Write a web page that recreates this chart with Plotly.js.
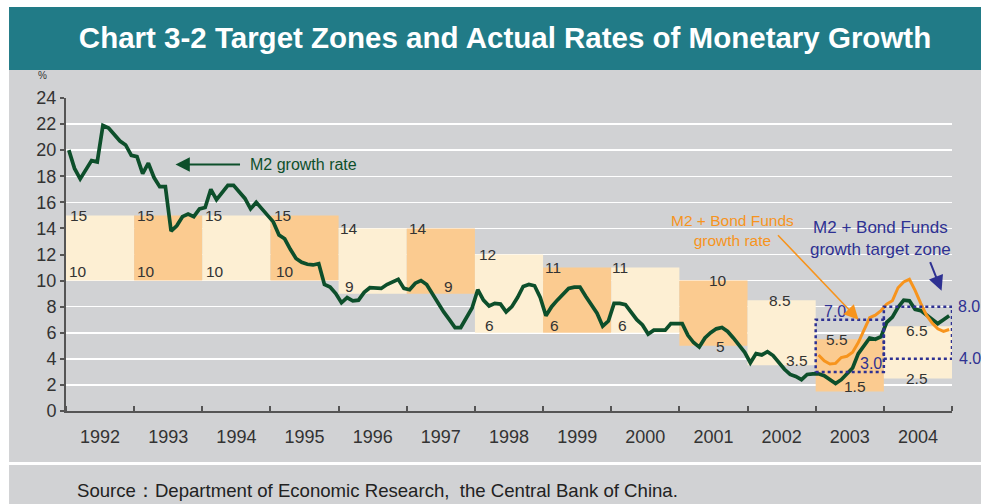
<!DOCTYPE html>
<html>
<head>
<meta charset="utf-8">
<script src="https://cdn.plot.ly/plotly-3.0.1.min.js"></script>
<style>html,body{margin:0;padding:0;background:#fff;}#chart{width:981px;height:504px;}</style>
</head>
<body>
<div id="chart"></div>
<script>
// ---------------- DATA ----------------
const years = [1992,1993,1994,1995,1996,1997,1998,1999,2000,2001,2002,2003,2004];
const yearLabels = ['1992','1993','1994','1995','1996','1997','1998','1999','2000','2001','2002','2003','2004'];
const zoneLow  = [10,10,10,10,9,9,6,6,6,5,3.5,1.5,2.5];
const zoneHigh = [15,15,15,15,14,14,12,11,11,10,8.5,5.5,6.5];
const zoneLowText  = ['10','10','10','10','9','9','6','6','6','5','3.5','1.5','2.5'];
const zoneHighText = ['15','15','15','15','14','14','12','11','11','10','8.5','5.5','6.5'];

// M2 growth rate, monthly Jan 1992 - Dec 2004 (%)
const m2Growth = [
  20.0,18.6,17.8,18.5,19.2,19.1,21.9,21.7,21.2,20.7,20.4,19.6,
  19.5,18.2,19.0,17.9,17.2,17.2,13.8,14.2,14.9,15.1,14.9,15.5,
  15.6,17.0,16.2,16.8,17.3,17.3,16.8,16.3,15.5,16.0,15.5,15.0,
  14.5,13.5,13.2,12.4,11.7,11.4,11.25,11.2,11.3,9.7,9.5,9.0,
  8.3,8.7,8.45,8.5,9.1,9.45,9.4,9.4,9.7,9.9,10.1,9.4,
  9.3,9.8,10.0,9.7,9.0,8.2,7.6,7.0,6.4,6.4,7.1,7.9,
  9.3,8.5,8.05,8.25,8.2,7.6,8.0,8.7,9.55,9.7,9.6,8.7,
  7.3,8.0,8.5,9.0,9.4,9.5,9.5,8.8,8.2,7.5,6.5,6.9,
  8.25,8.25,8.15,7.6,7.0,6.6,5.9,6.2,6.2,6.2,6.7,6.7,
  6.7,5.8,5.25,4.9,5.6,6.0,6.3,6.4,6.1,5.6,5.1,4.5,
  3.7,4.4,4.3,4.55,4.25,3.7,3.2,2.8,2.65,2.4,2.8,2.85,
  2.85,2.7,2.4,2.1,2.4,2.85,3.3,4.4,5.0,5.6,5.5,5.7,
  6.8,7.2,7.95,8.5,8.45,7.8,7.7,7.35,7.0,6.7,7.0,7.3
];
const m2StartYear = 1992;

// M2 + Bond Funds growth rate, monthly Jan 2003 - Dec 2004 (%)
const m2Bond = [
  4.3,3.85,3.6,3.65,4.1,4.2,4.5,5.25,6.2,7.15,7.35,7.7,
  8.2,8.45,9.45,9.9,10.1,9.25,8.25,7.35,6.75,6.3,6.1,6.25
];
const m2BondStartYear = 2003;

// M2 + Bond Funds growth target zones
const targetYears = [2003, 2004];
const targetLow  = [3.0, 4.0];
const targetHigh = [7.0, 8.0];
const targetLowText  = ['3.0','4.0'];
const targetHighText = ['7.0','8.0'];

const yTicks = [0,2,4,6,8,10,12,14,16,18,20,22,24];

// ---------------- STYLE / PLACEMENT ----------------
const FONT = 'Liberation Sans, Arial, sans-serif';
const C_LIGHT = '#fdefd3', C_ORANGE = '#fbcb90';
const C_GREEN = '#0d4f2b', C_ORG = '#f7941d', C_NAVY = '#2e3192';
const TXT = '#333333';
const hiDx = [0.18,0.16,0.17,0.18,0.15,0.17,0.19,0.15,0.13,0.56,0.48,0.31,0.49];
const hiDy = [0,0,0,0,0,0,0,0,0,0,0,0,-4];
const loDx = [0.18,0.17,0.19,0.21,0.16,0.61,0.21,0.17,0.17,0.60,0.72,0.57,0.49];
const loDy = [9,9,9,9,7,7,7,7,7,-1,5,5,0];

function monthX(startYear, i){ return startYear + Math.floor(i/12) + ((i%12)+0.5)/12; }

const traces = [];
traces.push({
  type:'bar', x: years.map(y=>y+0.5), y: zoneHigh.map((h,i)=>h-zoneLow[i]), base: zoneLow,
  width: years.map(()=>1),
  marker:{color: years.map((y,i)=> i%2===0 ? C_LIGHT : C_ORANGE), line:{width:0}},
  hoverinfo:'skip', showlegend:false
});
traces.push({
  type:'scatter', mode:'lines', x: m2Growth.map((v,i)=>monthX(m2StartYear,i)), y: m2Growth,
  line:{color:C_GREEN, width:3.7}, hoverinfo:'skip', showlegend:false, cliponaxis:false
});
traces.push({
  type:'scatter', mode:'lines', x: m2Bond.map((v,i)=>monthX(m2BondStartYear,i)), y: m2Bond,
  line:{color:C_ORG, width:3}, hoverinfo:'skip', showlegend:false
});
targetYears.forEach((yr,k)=>{
  traces.push({
    type:'scatter', mode:'lines',
    x:[yr, yr+1, yr+1, yr, yr], y:[targetLow[k], targetLow[k], targetHigh[k], targetHigh[k], targetLow[k]],
    line:{color:C_NAVY, width:2.5, dash:'dot'}, hoverinfo:'skip', showlegend:false, cliponaxis:false
  });
});

const ann = [];
years.forEach((yr,i)=>{
  ann.push({xref:'x', yref:'y', x: yr+hiDx[i], y: zoneHigh[i], yshift: hiDy[i], text: zoneHighText[i],
    showarrow:false, xanchor:'center', yanchor:'middle', font:{family:FONT, size:15.5, color:TXT}});
  ann.push({xref:'x', yref:'y', x: yr+loDx[i], y: zoneLow[i], yshift: loDy[i], text: zoneLowText[i],
    showarrow:false, xanchor:'center', yanchor:'middle', font:{family:FONT, size:15.5, color:TXT}});
});
ann.push({xref:'x', yref:'y', x: targetYears[0]+0.28, y: targetHigh[0], yshift:8, text: targetHighText[0],
  showarrow:false, xanchor:'center', yanchor:'middle', font:{family:FONT, size:16, color:C_NAVY}});
ann.push({xref:'x', yref:'y', x: targetYears[0]+0.81, y: targetLow[0], yshift:8, text: targetLowText[0],
  showarrow:false, xanchor:'center', yanchor:'middle', font:{family:FONT, size:16, color:C_NAVY}});
ann.push({xref:'x', yref:'y', x: targetYears[1]+1, y: targetHigh[1], xshift:4, text: targetHighText[1],
  showarrow:false, xanchor:'left', yanchor:'middle', font:{family:FONT, size:16, color:C_NAVY}});
ann.push({xref:'x', yref:'y', x: targetYears[1]+1, y: targetLow[1], xshift:5, text: targetLowText[1],
  showarrow:false, xanchor:'left', yanchor:'middle', font:{family:FONT, size:16, color:C_NAVY}});

ann.push({xref:'x', yref:'y', x:1995.49, y:18.9, text:'M2 growth rate', showarrow:false,
  font:{family:FONT, size:16, color:C_GREEN}});
ann.push({xref:'x', yref:'y', x:1993.607, y:18.9, ax:66, ay:0, text:'', showarrow:true,
  arrowhead:2, arrowsize:1.3, arrowwidth:2.2, arrowcolor:C_GREEN});
ann.push({xref:'x', yref:'y', x:2001.78, y:13.84, text:'M2 + Bond Funds<br>growth rate', showarrow:false,
  font:{family:FONT, size:15.5, color:C_ORG}});
ann.push({xref:'x', yref:'y', x:2003.629, y:7.0, ax:-82, ay:-86, text:'', showarrow:true,
  arrowhead:2, arrowsize:1.8, arrowwidth:1.6, arrowcolor:C_ORG});
ann.push({xref:'x', yref:'y', x:2003.951, y:13.26, text:'M2 + Bond Funds<br>growth target zone', showarrow:false,
  font:{family:FONT, size:17, color:C_NAVY}});
ann.push({xref:'x', yref:'y', x:2004.847, y:9.23, ax:-12, ay:-30, text:'', showarrow:true,
  arrowhead:2, arrowsize:1.5, arrowwidth:2, arrowcolor:C_NAVY});
ann.push({xref:'paper', yref:'paper', x:-0.027, y:1.071, text:'%', showarrow:false,
  xanchor:'center', yanchor:'middle', font:{family:FONT, size:10, color:TXT}});
ann.push({xref:'paper', yref:'paper', x:0.0102, y:-0.2524, xanchor:'left', yanchor:'middle',
  text:'Source：Department of Economic Research,  the Central Bank of China.', showarrow:false,
  font:{family:FONT, size:18.6, color:'#222'}});

const shapes = [
  {type:'rect', xref:'paper', yref:'paper', x0:-0.0643, x1:1.04, y0:-0.31, y1:1.2907, fillcolor:'#d1d2d4', line:{width:0}, layer:'below'},
  {type:'rect', xref:'paper', yref:'paper', x0:-0.0643, x1:1.04, y0:1.0895, y1:1.2907, fillcolor:'#217b87', line:{width:0}, layer:'below'},
  {type:'line', xref:'paper', yref:'paper', x0:-0.0643, x1:1.04, y0:-0.1677, y1:-0.1677, line:{color:'#ffffff', width:3}, layer:'below'}
];

const layout = {
  width:981, height:504,
  margin:{l:66, r:29, t:98, b:93},
  paper_bgcolor:'#ffffff', plot_bgcolor:'rgba(0,0,0,0)',
  showlegend:false, barmode:'overlay',
  title:{text:'Chart 3-2 Target Zones and Actual Rates of Monetary Growth', xref:'container', yref:'container',
    x:0.5148, y:0.925, xanchor:'center', yanchor:'middle',
    font:{family:FONT, size:29.5, color:'#ffffff', weight:'bold'}},
  xaxis:{range:[1992,2005], tickmode:'array', tickvals: years.map(y=>y+0.5), ticktext: yearLabels,
    ticks:'', showgrid:false, zeroline:false, showline:true, linecolor:'#555', linewidth:2,
    tickfont:{family:FONT, size:18, color:TXT}, ticklabelstandoff:8,
    minor:{tickmode:'linear', tick0:1992, dtick:1, ticks:'inside', ticklen:5, tickwidth:2, tickcolor:'#555', showgrid:false}},
  yaxis:{range:[0,24], tickmode:'array', tickvals:yTicks, ticks:'outside', ticklen:4, tickwidth:2, tickcolor:'#555',
    showgrid:true, gridcolor:'#ffffff', gridwidth:1.5, zeroline:false, showline:true, linecolor:'#555', linewidth:2,
    tickfont:{family:FONT, size:18, color:TXT}},
  shapes: shapes,
  annotations: ann
};

Plotly.newPlot('chart', traces, layout, {displayModeBar:false, staticPlot:true});
</script>
</body>
</html>
